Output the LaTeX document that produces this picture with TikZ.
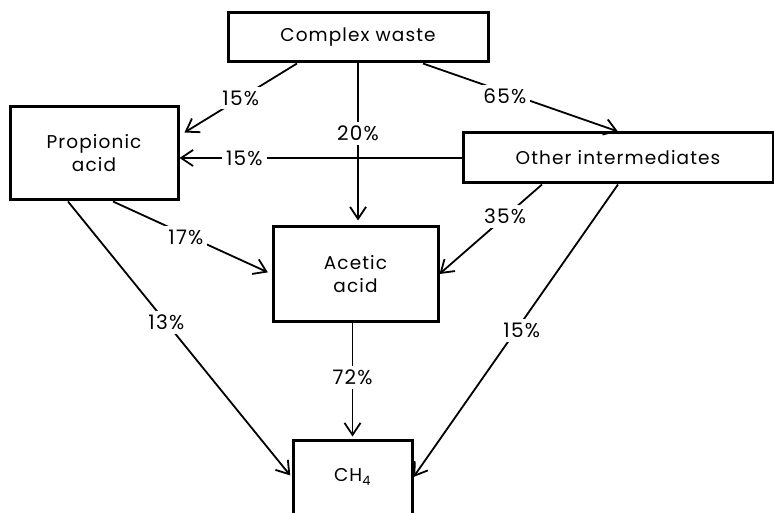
\documentclass[tikz,border=0pt]{standalone}
\usepackage{fontspec}
\setmainfont{Poppins}
\newfontfamily\wide[LetterSpace=6]{Poppins}
\usetikzlibrary{arrows.meta}
\begin{document}
\begin{tikzpicture}[x=1pt,y=-1pt,
  box/.style={draw,line width=3pt,inner sep=0pt,align=center,font=\fontsize{18.5}{23}\wide},
  flow/.style={line width=1.8pt,-{Straight Barb[length=12pt,width=16pt]}},
  pct/.style={fill=white,inner sep=4pt,font=\fontsize{20}{22}\wide}]
\useasboundingbox (0,0) rectangle (774,513);
\node[box,minimum width=260pt,minimum height=49pt] (waste) at (358,37.5) {Complex waste};
\node[box,minimum width=168pt,minimum height=93pt] (propionic) at (94,153.5) {Propionic\\acid};
\node[box,minimum width=310pt,minimum height=50pt] (other) at (618,158) {Other intermediates};
\node[box,minimum width=165pt,minimum height=94pt] (acetic) at (355.5,274) {Acetic\\acid};
\node[box,minimum width=119pt,minimum height=74pt] (methane) at (352.5,477) {CH\textsubscript{4}};
\draw[flow] ([xshift=-61]waste.south) -- node[pct] (w2p) {15\%} ([shift={(5,-21)}]propionic.east);
\draw[flow,shorten >=5pt] (waste.south) -- node[pct,pos=0.43] (w2a) {20\%} (waste.south |- acetic.north);
\draw[flow] ([xshift=65]waste.south) -- node[pct,pos=0.42,yshift=-4] (w2o) {65\%} (other.north);
\draw[flow] (other.west) -- node[pct,pos=0.77] (o2p) {15\%} (other.west -| propionic.east);
\draw[flow,shorten >=4pt] ([xshift=19]propionic.south) -- node[pct,pos=0.46,yshift=-3] (p2a) {17\%} (acetic.west);
\draw[flow] ([xshift=-76]other.south) -- node[pct,pos=0.36] (o2a) {35\%} (acetic.east);
\draw[flow,shorten >=2pt] ([xshift=-26]propionic.south) -- node[pct,pos=0.44] (p2m) {13\%} (methane.west);
\draw[flow,shorten >=2pt] (acetic.south -| methane.north) -- node[pct,pos=0.47] (a2m) {72\%} (methane.north);
\draw[flow] (other.south) -- node[pct,pos=0.5,xshift=6] (o2m) {15\%} (methane.east);
\end{tikzpicture}
\end{document}
